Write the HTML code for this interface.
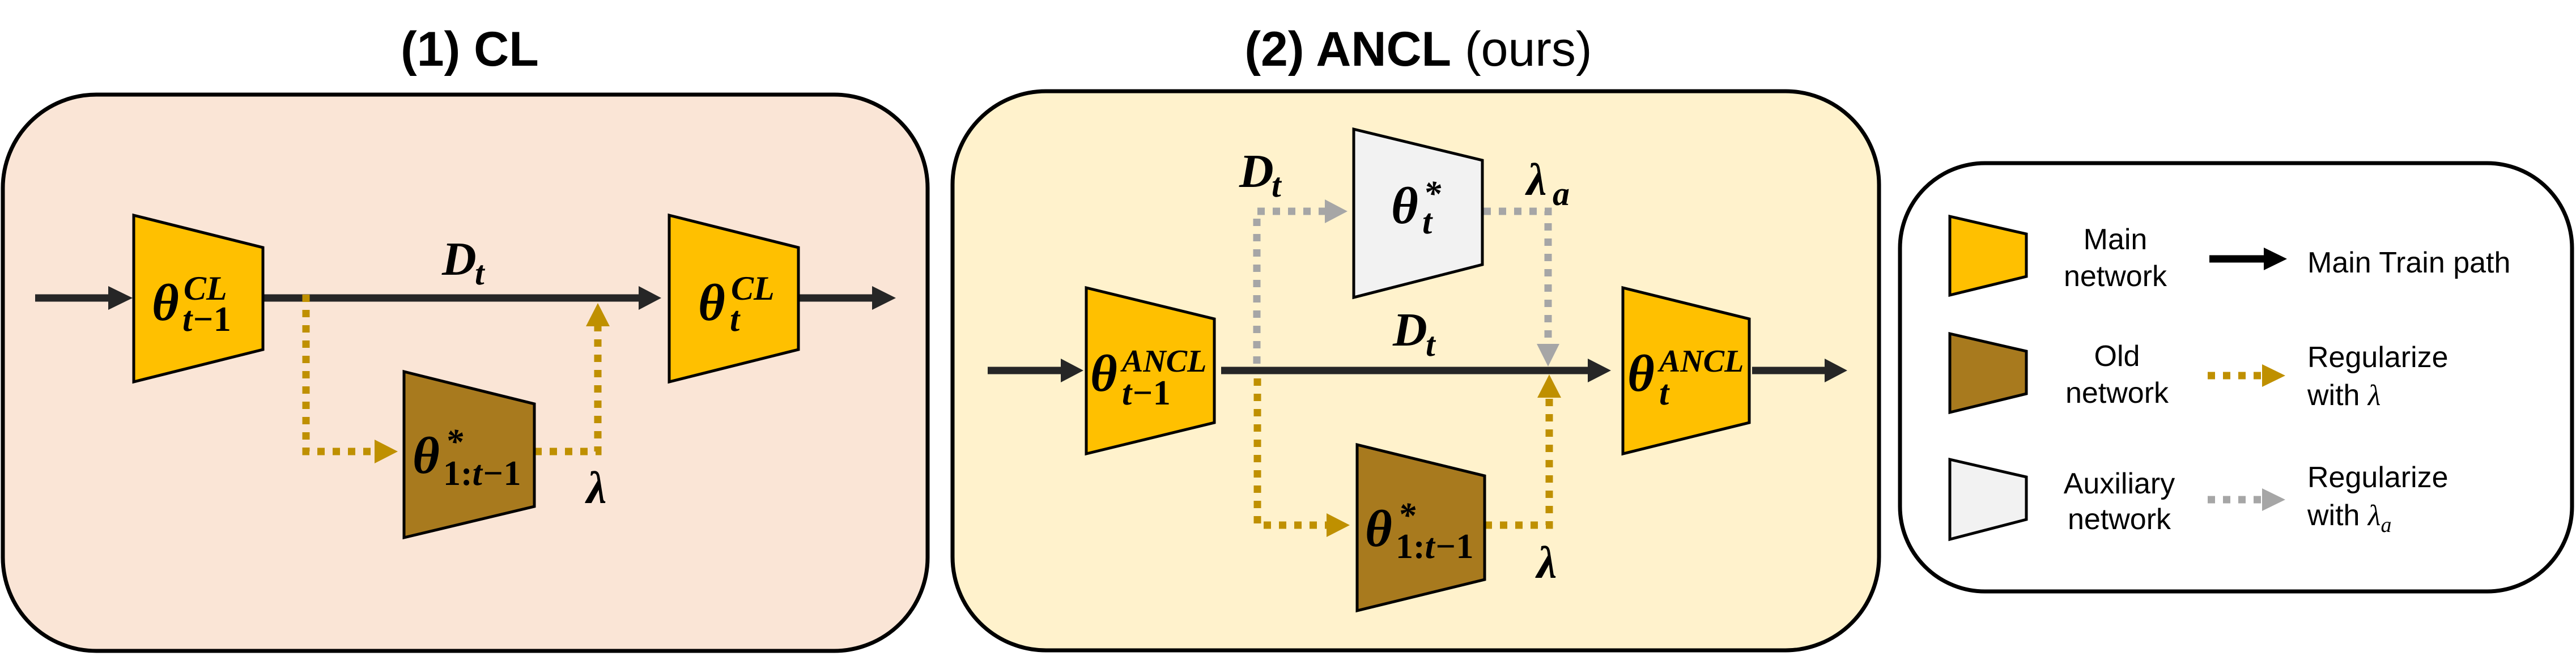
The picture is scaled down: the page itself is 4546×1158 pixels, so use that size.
<!DOCTYPE html>
<html><head><meta charset="utf-8"><style>
html,body{margin:0;padding:0;background:#fff}
svg{display:block}
.m{font-family:"Liberation Serif",serif;font-weight:bold;font-style:italic;fill:#000}
.u{font-style:normal}
.s{font-family:"Liberation Sans",sans-serif;fill:#000}
</style></head><body>
<svg width="4546" height="1158" viewBox="0 0 4546 1158" xmlns="http://www.w3.org/2000/svg">
<text x="829" y="116" text-anchor="middle" class="s" font-size="86" font-weight="bold">(1) CL</text>
<text x="2503" y="116" text-anchor="middle" class="s" font-size="86"><tspan font-weight="bold">(2) ANCL</tspan> (ours)</text>

<rect x="5" y="167" width="1632" height="982" rx="165" ry="165" fill="#fae5d6" stroke="#000" stroke-width="7"/>
<rect x="1681" y="161" width="1635" height="987" rx="165" ry="165" fill="#fff2cc" stroke="#000" stroke-width="7"/>
<rect x="3353" y="288" width="1186" height="756" rx="150" ry="150" fill="#fff" stroke="#000" stroke-width="7"/>

<!-- panel 1 -->
<line x1="62" y1="526" x2="195" y2="526" stroke="#262626" stroke-width="13"/>
<polygon points="191,505 234,526 191,547" fill="#262626"/>
<line x1="464" y1="526" x2="1130" y2="526" stroke="#262626" stroke-width="13"/>
<polygon points="1127,505 1167,526 1127,547" fill="#262626"/>
<line x1="1409" y1="526" x2="1542" y2="526" stroke="#262626" stroke-width="13"/>
<polygon points="1539,505 1581,526 1539,547" fill="#262626"/>
<polyline points="540,520 540,797 665,797" fill="none" stroke="#bf9000" stroke-width="13" stroke-dasharray="13 14"/>
<polygon points="661,776 702,797 661,818" fill="#bf9000"/>
<polyline points="943,797 1055,797 1055,572" fill="none" stroke="#bf9000" stroke-width="13" stroke-dasharray="13 14"/>
<polygon points="1034,576 1055,535 1076,576" fill="#bf9000"/>
<polygon points="236,380 464,437 464,617 236,674" fill="#ffc000" stroke="#000" stroke-width="5"/>
<polygon points="1181,380 1409,437 1409,617 1181,674" fill="#ffc000" stroke="#000" stroke-width="5"/>
<polygon points="713,656 943,713 943,894 713,949" fill="#a87a1e" stroke="#000" stroke-width="5"/>
<text x="268" y="565" class="m" font-size="92">θ</text>
<text x="324" y="529" class="m" font-size="60">CL</text>
<text x="322" y="584" class="m" font-size="62">t−<tspan class="u">1</tspan></text>
<text x="1232" y="565" class="m" font-size="92">θ</text>
<text x="1290" y="529" class="m" font-size="60">CL</text>
<text x="1288" y="584" class="m" font-size="62">t</text>
<text x="728" y="835" class="m" font-size="92">θ</text>
<text x="786" y="800" class="m" font-size="62">*</text>
<text x="782" y="856" class="m" font-size="62"><tspan class="u">1:</tspan>t−<tspan class="u">1</tspan></text>
<text x="780" y="485" class="m" font-size="84">D</text>
<text x="838" y="502" class="m" font-size="60">t</text>
<text x="1035" y="888" class="m" font-size="80">λ</text>

<!-- panel 2 -->
<line x1="1743" y1="654" x2="1875" y2="654" stroke="#262626" stroke-width="13"/>
<polygon points="1872,633 1912,654 1872,675" fill="#262626"/>
<line x1="2155" y1="654" x2="2806" y2="654" stroke="#262626" stroke-width="13"/>
<polygon points="2802,633 2843,654 2802,675" fill="#262626"/>
<line x1="3092" y1="654" x2="3224" y2="654" stroke="#262626" stroke-width="13"/>
<polygon points="3220,633 3260,654 3220,675" fill="#262626"/>
<polyline points="2340,373 2218,373 2218,650" fill="none" stroke="#a6a6a6" stroke-width="13" stroke-dasharray="13 14"/>
<polygon points="2338,352 2378,373 2338,394" fill="#a6a6a6"/>
<polyline points="2618,373 2732,373 2732,610" fill="none" stroke="#a6a6a6" stroke-width="13" stroke-dasharray="13 14"/>
<polygon points="2712,607 2732,647 2752,607" fill="#a6a6a6"/>
<polyline points="2219,668 2219,927 2345,927" fill="none" stroke="#bf9000" stroke-width="13" stroke-dasharray="13 14"/>
<polygon points="2341,906 2382,927 2341,948" fill="#bf9000"/>
<polyline points="2620,927 2734,927 2734,700" fill="none" stroke="#bf9000" stroke-width="13" stroke-dasharray="13 14"/>
<polygon points="2713,702 2734,661 2755,702" fill="#bf9000"/>
<polygon points="2389,228 2616,283 2616,467 2389,525" fill="#f2f2f2" stroke="#000" stroke-width="5"/>
<polygon points="1917,508 2143,563 2143,746 1917,801" fill="#ffc000" stroke="#000" stroke-width="5"/>
<polygon points="2864,508 3087,563 3087,746 2864,801" fill="#ffc000" stroke="#000" stroke-width="5"/>
<polygon points="2395,785 2620,840 2620,1023 2395,1078" fill="#a87a1e" stroke="#000" stroke-width="5"/>
<text x="1924" y="690" class="m" font-size="92">θ</text>
<text x="1980" y="656" class="m" font-size="56">ANCL</text>
<text x="1980" y="714" class="m" font-size="62">t−<tspan class="u">1</tspan></text>
<text x="2872" y="690" class="m" font-size="92">θ</text>
<text x="2928" y="656" class="m" font-size="56">ANCL</text>
<text x="2928" y="714" class="m" font-size="62">t</text>
<text x="2455" y="394" class="m" font-size="92">θ</text>
<text x="2512" y="362" class="m" font-size="62">*</text>
<text x="2510" y="412" class="m" font-size="62">t</text>
<text x="2409" y="964" class="m" font-size="92">θ</text>
<text x="2467" y="930" class="m" font-size="62">*</text>
<text x="2463" y="985" class="m" font-size="62"><tspan class="u">1:</tspan>t−<tspan class="u">1</tspan></text>
<text x="2187" y="330" class="m" font-size="84">D</text>
<text x="2244" y="347" class="m" font-size="60">t</text>
<text x="2458" y="610" class="m" font-size="84">D</text>
<text x="2516" y="628" class="m" font-size="60">t</text>
<text x="2694" y="344" class="m" font-size="80">λ</text>
<text x="2740" y="362" class="m" font-size="60">a</text>
<text x="2712" y="1020" class="m" font-size="80">λ</text>

<!-- legend -->
<polygon points="3441,382 3576,413 3576,488 3441,521" fill="#ffc000" stroke="#000" stroke-width="5"/>
<polygon points="3441,589 3576,620 3576,695 3441,728" fill="#a87a1e" stroke="#000" stroke-width="5"/>
<polygon points="3441,811 3576,842 3576,917 3441,952" fill="#f2f2f2" stroke="#000" stroke-width="5"/>
<g class="s" font-size="52" text-anchor="middle">
<text x="3733" y="440">Main</text><text x="3733" y="505">network</text>
<text x="3736" y="646">Old</text><text x="3736" y="711">network</text>
<text x="3740" y="871">Auxiliary</text><text x="3740" y="934">network</text>
</g>
<line x1="3899" y1="457" x2="3998" y2="457" stroke="#000" stroke-width="13"/>
<polygon points="3995,437 4036,457 3995,477" fill="#000"/>
<line x1="3896" y1="663" x2="3992" y2="663" stroke="#bf9000" stroke-width="13" stroke-dasharray="13 14"/>
<polygon points="3992,643 4033,663 3992,683" fill="#bf9000"/>
<line x1="3896" y1="882" x2="3992" y2="882" stroke="#a6a6a6" stroke-width="13" stroke-dasharray="13 14"/>
<polygon points="3992,862 4033,882 3992,902" fill="#a6a6a6"/>
<g class="s" font-size="52">
<text x="4072" y="481">Main Train path</text>
<text x="4072" y="648">Regularize</text>
<text x="4072" y="715">with <tspan font-family="Liberation Serif" font-style="italic">λ</tspan></text>
<text x="4072" y="860">Regularize</text>
<text x="4072" y="927">with <tspan font-family="Liberation Serif" font-style="italic">λ</tspan><tspan font-family="Liberation Serif" font-style="italic" font-size="38" dy="12">a</tspan></text>
</g>
</svg>
</body></html>
